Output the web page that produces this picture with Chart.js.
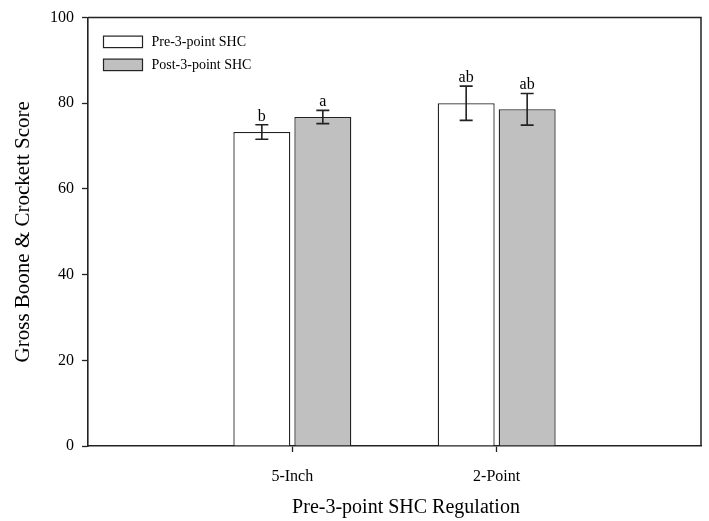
<!DOCTYPE html>
<html>
<head>
<meta charset="utf-8">
<script src="https://cdn.jsdelivr.net/npm/chart.js@4/dist/chart.umd.min.js"></script>
<style>
  html, body { margin: 0; padding: 0; background: #fff; }
  #wrap { width: 709px; height: 521px; }
</style>
</head>
<body>
<div id="wrap"><canvas id="c" width="709" height="521"></canvas></div>
<script>
// ---- data ----
const categories = ['5-Inch', '2-Point'];
const seriesNames = ['Pre-3-point SHC', 'Post-3-point SHC'];
const preMeans = [73.3, 80.0];
const preErrors = [1.7, 4.0];
const preLetters = ['b', 'ab'];
const postMeans = [76.8, 78.6];
const postErrors = [1.55, 3.7];
const postLetters = ['a', 'ab'];
const yTicks = [0, 20, 40, 60, 80, 100];
const xTitle = 'Pre-3-point SHC Regulation';
const yTitle = 'Gross Boone & Crockett Score';

const serif = "'Liberation Serif', 'Times New Roman', serif";
const ink = '#222';

// pad categories so they sit at 1/3 and 2/3 of the axis
const labels = [''].concat(categories, ['']);
const pad = arr => [null].concat(arr, [null]);

const errorPlugin = {
  id: 'errorBars',
  afterDatasetsDraw(chart) {
    const ctx = chart.ctx;
    const ys = chart.scales.y;
    chart.data.datasets.forEach((ds, di) => {
      const meta = chart.getDatasetMeta(di);
      meta.data.forEach((el, i) => {
        const v = ds.data[i];
        if (v == null) return;
        const e = ds.errors[i];
        const x = el.x;
        const yt = ys.getPixelForValue(v + e);
        const yb = ys.getPixelForValue(v - e);
        ctx.save();
        ctx.strokeStyle = ink;
        ctx.lineWidth = 1.6;
        ctx.beginPath();
        ctx.moveTo(x, yt); ctx.lineTo(x, yb);
        ctx.moveTo(x - 6.5, yt); ctx.lineTo(x + 6.5, yt);
        ctx.moveTo(x - 6.5, yb); ctx.lineTo(x + 6.5, yb);
        ctx.stroke();
        ctx.fillStyle = '#000';
        ctx.font = "16px " + serif;
        ctx.textAlign = 'center';
        ctx.textBaseline = 'alphabetic';
        ctx.fillText(ds.letters[i], x, yt - 4);
        ctx.restore();
      });
    });
  }
};

const framePlugin = {
  id: 'frame',
  afterDraw(chart) {
    const a = chart.chartArea;
    const ctx = chart.ctx;
    ctx.save();
    ctx.strokeStyle = ink;
    ctx.lineWidth = 1.5;
    ctx.beginPath();
    ctx.moveTo(a.left, a.top);
    ctx.lineTo(a.right, a.top);
    ctx.lineTo(a.right, a.bottom);
    ctx.stroke();
    // x-axis title (set slightly right of plot centre, as in the original)
    ctx.fillStyle = '#000';
    ctx.font = "20px " + serif;
    ctx.textAlign = 'center';
    ctx.textBaseline = 'middle';
    ctx.fillText(xTitle, (a.left + a.right) / 2 + 11.5, a.bottom + 62);
    ctx.restore();
  }
};

const legendPlugin = {
  id: 'insideLegend',
  afterDraw(chart) {
    const a = chart.chartArea;
    const ctx = chart.ctx;
    ctx.save();
    chart.data.datasets.forEach((ds, i) => {
      const bx = a.left + 15.5;
      const by = a.top + 18.5 + i * 23;
      ctx.fillStyle = ds.backgroundColor;
      ctx.fillRect(bx, by, 39, 11.5);
      ctx.strokeStyle = ink;
      ctx.lineWidth = 1.2;
      ctx.strokeRect(bx, by, 39, 11.5);
      ctx.fillStyle = '#000';
      ctx.font = "14px " + serif;
      ctx.textAlign = 'left';
      ctx.textBaseline = 'middle';
      ctx.fillText(ds.label, bx + 48, by + 6);
    });
    ctx.restore();
  }
};

new Chart(document.getElementById('c'), {
  type: 'bar',
  data: {
    labels: labels,
    datasets: [
      { label: seriesNames[0], data: pad(preMeans), errors: pad(preErrors), letters: pad(preLetters),
        backgroundColor: '#ffffff', borderColor: ink, borderWidth: 1.3 },
      { label: seriesNames[1], data: pad(postMeans), errors: pad(postErrors), letters: pad(postLetters),
        backgroundColor: '#c0c0c0', borderColor: ink, borderWidth: 1.3 }
    ]
  },
  options: {
    responsive: false,
    animation: false,
    devicePixelRatio: 1,
    categoryPercentage: 0.597,
    barPercentage: 0.934,
    layout: { padding: { left: 0, right: 8, top: 15, bottom: 0 } },
    plugins: { legend: { display: false }, tooltip: { enabled: false } },
    scales: {
      x: {
        type: 'category',
        offset: false,
        afterFit: s => { s.height = 75; s.paddingLeft = 0; s.paddingRight = 0; },
        grid: {
          display: true, offset: false, drawOnChartArea: false, drawTicks: true, tickLength: 6,
          tickColor: c => (c.index === 1 || c.index === 2) ? ink : 'rgba(0,0,0,0)',
          tickWidth: 1.3
        },
        border: { display: true, color: ink, width: 1.6 },
        ticks: { color: '#000', font: { family: serif, size: 16 }, padding: 15,
                 autoSkip: false, maxRotation: 0 },
        title: { display: false }
      },
      y: {
        min: 0, max: 100,
        afterFit: s => { s.width = 88; },
        afterBuildTicks: s => { s.ticks = yTicks.map(v => ({ value: v })); },
        grid: { display: true, drawOnChartArea: false, drawTicks: true, tickLength: 6,
                tickColor: ink, tickWidth: 1.3 },
        border: { display: true, color: ink, width: 1.6 },
        ticks: { color: '#000', font: { family: serif, size: 16 }, padding: 8 },
        title: { display: true, text: yTitle, color: '#000',
                 font: { family: serif, size: 21 }, padding: { top: 11, bottom: 0 } }
      }
    }
  },
  plugins: [errorPlugin, framePlugin, legendPlugin]
});
</script>
</body>
</html>
